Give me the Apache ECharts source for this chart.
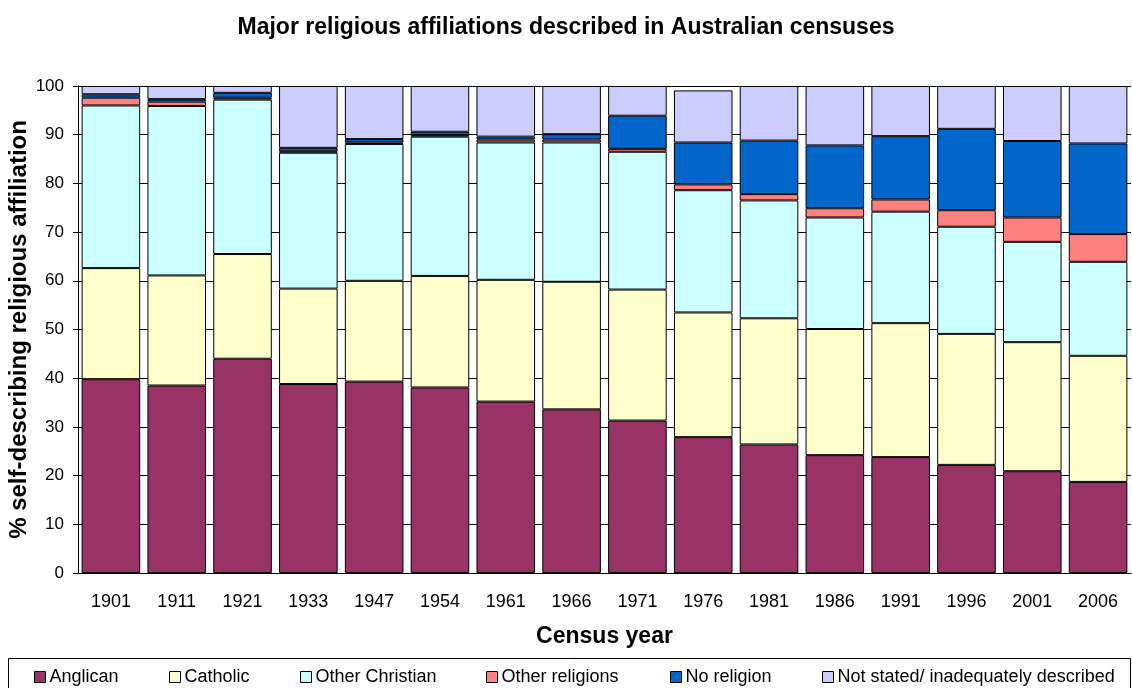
<!DOCTYPE html>
<html>
<head>
<meta charset="utf-8">
<script src="https://cdn.jsdelivr.net/npm/echarts@6/dist/echarts.min.js"></script>
<style>
	html, body { margin: 0; padding: 0; background: #fff; }
	#report { width: 1132px; height: 688px; }
</style>
</head>
<body>
<div id="report"></div>
<script>
var years = ['1901', '1911', '1921', '1933', '1947', '1954', '1961', '1966', '1971', '1976', '1981', '1986', '1991', '1996', '2001', '2006'];
var names = ['Anglican', 'Catholic', 'Other Christian', 'Other religions', 'No religion', 'Not stated/ inadequately described'];
var colors = ['#993366', '#FFFFCC', '#CCFFFF', '#FF8080', '#0066CC', '#CCCCFF'];

// % of people per census, stacked bottom to top
var anglican = [39.8, 38.5, 44.0, 38.8, 39.3, 38.1, 35.2, 33.6, 31.3, 27.9, 26.4, 24.2, 23.8, 22.2, 20.9, 18.7];
var catholic = [22.8, 22.6, 21.5, 19.6, 20.7, 22.9, 25.0, 26.2, 26.9, 25.6, 25.9, 25.9, 27.5, 26.9, 26.5, 25.9];
var otherChristian = [33.4, 34.8, 31.7, 27.9, 28.1, 28.6, 28.2, 28.6, 28.3, 25.1, 24.2, 22.9, 22.9, 22.0, 20.6, 19.3];
var otherReligions = [1.6, 0.9, 0.4, 0.3, 0.3, 0.3, 0.6, 0.6, 0.6, 1.2, 1.3, 1.9, 2.5, 3.4, 5.0, 5.7];
var noReligion = [0.7, 0.5, 1.0, 0.7, 0.7, 0.7, 0.6, 1.1, 6.8, 8.6, 11.0, 12.9, 13.0, 16.7, 15.7, 18.6];
var notStated = [1.7, 2.7, 1.4, 12.7, 10.9, 9.4, 10.4, 9.9, 6.1, 10.7, 11.2, 12.2, 10.3, 8.8, 11.3, 11.8];
var yTicks = { min: 0, max: 100, step: 10 };

var values = [anglican, catholic, otherChristian, otherReligions, noReligion, notStated];
var legendLeft = [34, 169, 300, 486, 670, 822];
var font = "'Liberation Sans', Arial, sans-serif";

var myChart = echarts.init(document.getElementById('report'));
var option = {
	animation : false,
	backgroundColor : '#fff',
	textStyle : { fontFamily : font, color : '#000' },
	title : {
		text : 'Major religious affiliations described in Australian censuses',
		left : 'center',
		top : 11,
		textStyle : { fontFamily : font, fontSize : 23, fontWeight : 'bold', color : '#000' }
	},
	legend : names.map(function(n, i) {
		return {
			data : [ n ],
			left : legendLeft[i],
			top : 668,
			padding : 0,
			icon : 'rect',
			itemWidth : 11,
			itemHeight : 11,
			itemGap : 4,
			itemStyle : { borderColor : '#000', borderWidth : 1 },
			selectedMode : false,
			textStyle : { fontFamily : font, fontSize : 18, color : '#000', padding : [0, 0, 0, -1] }
		};
	}),
	graphic : [ {
		type : 'rect',
		shape : { x : 8.5, y : 658.5, width : 1122, height : 40 },
		style : { fill : 'none', stroke : '#000', lineWidth : 1 },
		silent : true
	} ],
	grid : { left : 78, right : 1, top : 86, bottom : 115, containLabel : false, outerBoundsMode : 'none' },
	xAxis : {
		type : 'category',
		data : years,
		name : 'Census year',
		nameLocation : 'middle',
		nameGap : 52,
		nameMoveOverlap : false,
		nameTextStyle : { fontFamily : font, fontSize : 23, fontWeight : 'bold', color : '#000' },
		axisLine : { lineStyle : { color : '#000', width : 1 } },
		axisTick : { lineStyle : { color : '#000' }, length : 5 },
		axisLabel : { fontFamily : font, fontSize : 18, color : '#000', margin : 20 }
	},
	yAxis : {
		type : 'value',
		min : yTicks.min,
		max : yTicks.max,
		interval : yTicks.step,
		name : '% self-describing religious affiliation',
		nameLocation : 'middle',
		nameGap : 47,
		nameMoveOverlap : false,
		nameTextStyle : { fontFamily : font, fontSize : 24, fontWeight : 'bold', color : '#000' },
		axisLine : { show : true, lineStyle : { color : '#000', width : 1 } },
		axisTick : { show : true, lineStyle : { color : '#000' }, length : 5 },
		axisLabel : { fontFamily : font, fontSize : 17, color : '#000', margin : 14 },
		splitLine : { show : true, lineStyle : { color : '#000', width : 1 } }
	},
	series : names.map(function(n, i) {
		return {
			name : n,
			type : 'bar',
			stack : 'total',
			barCategoryGap : '11%',
			data : values[i],
			itemStyle : { color : colors[i], borderColor : '#000', borderWidth : 1 },
			emphasis : { disabled : true }
		};
	})
};
myChart.setOption(option);
</script>
</body>
</html>
